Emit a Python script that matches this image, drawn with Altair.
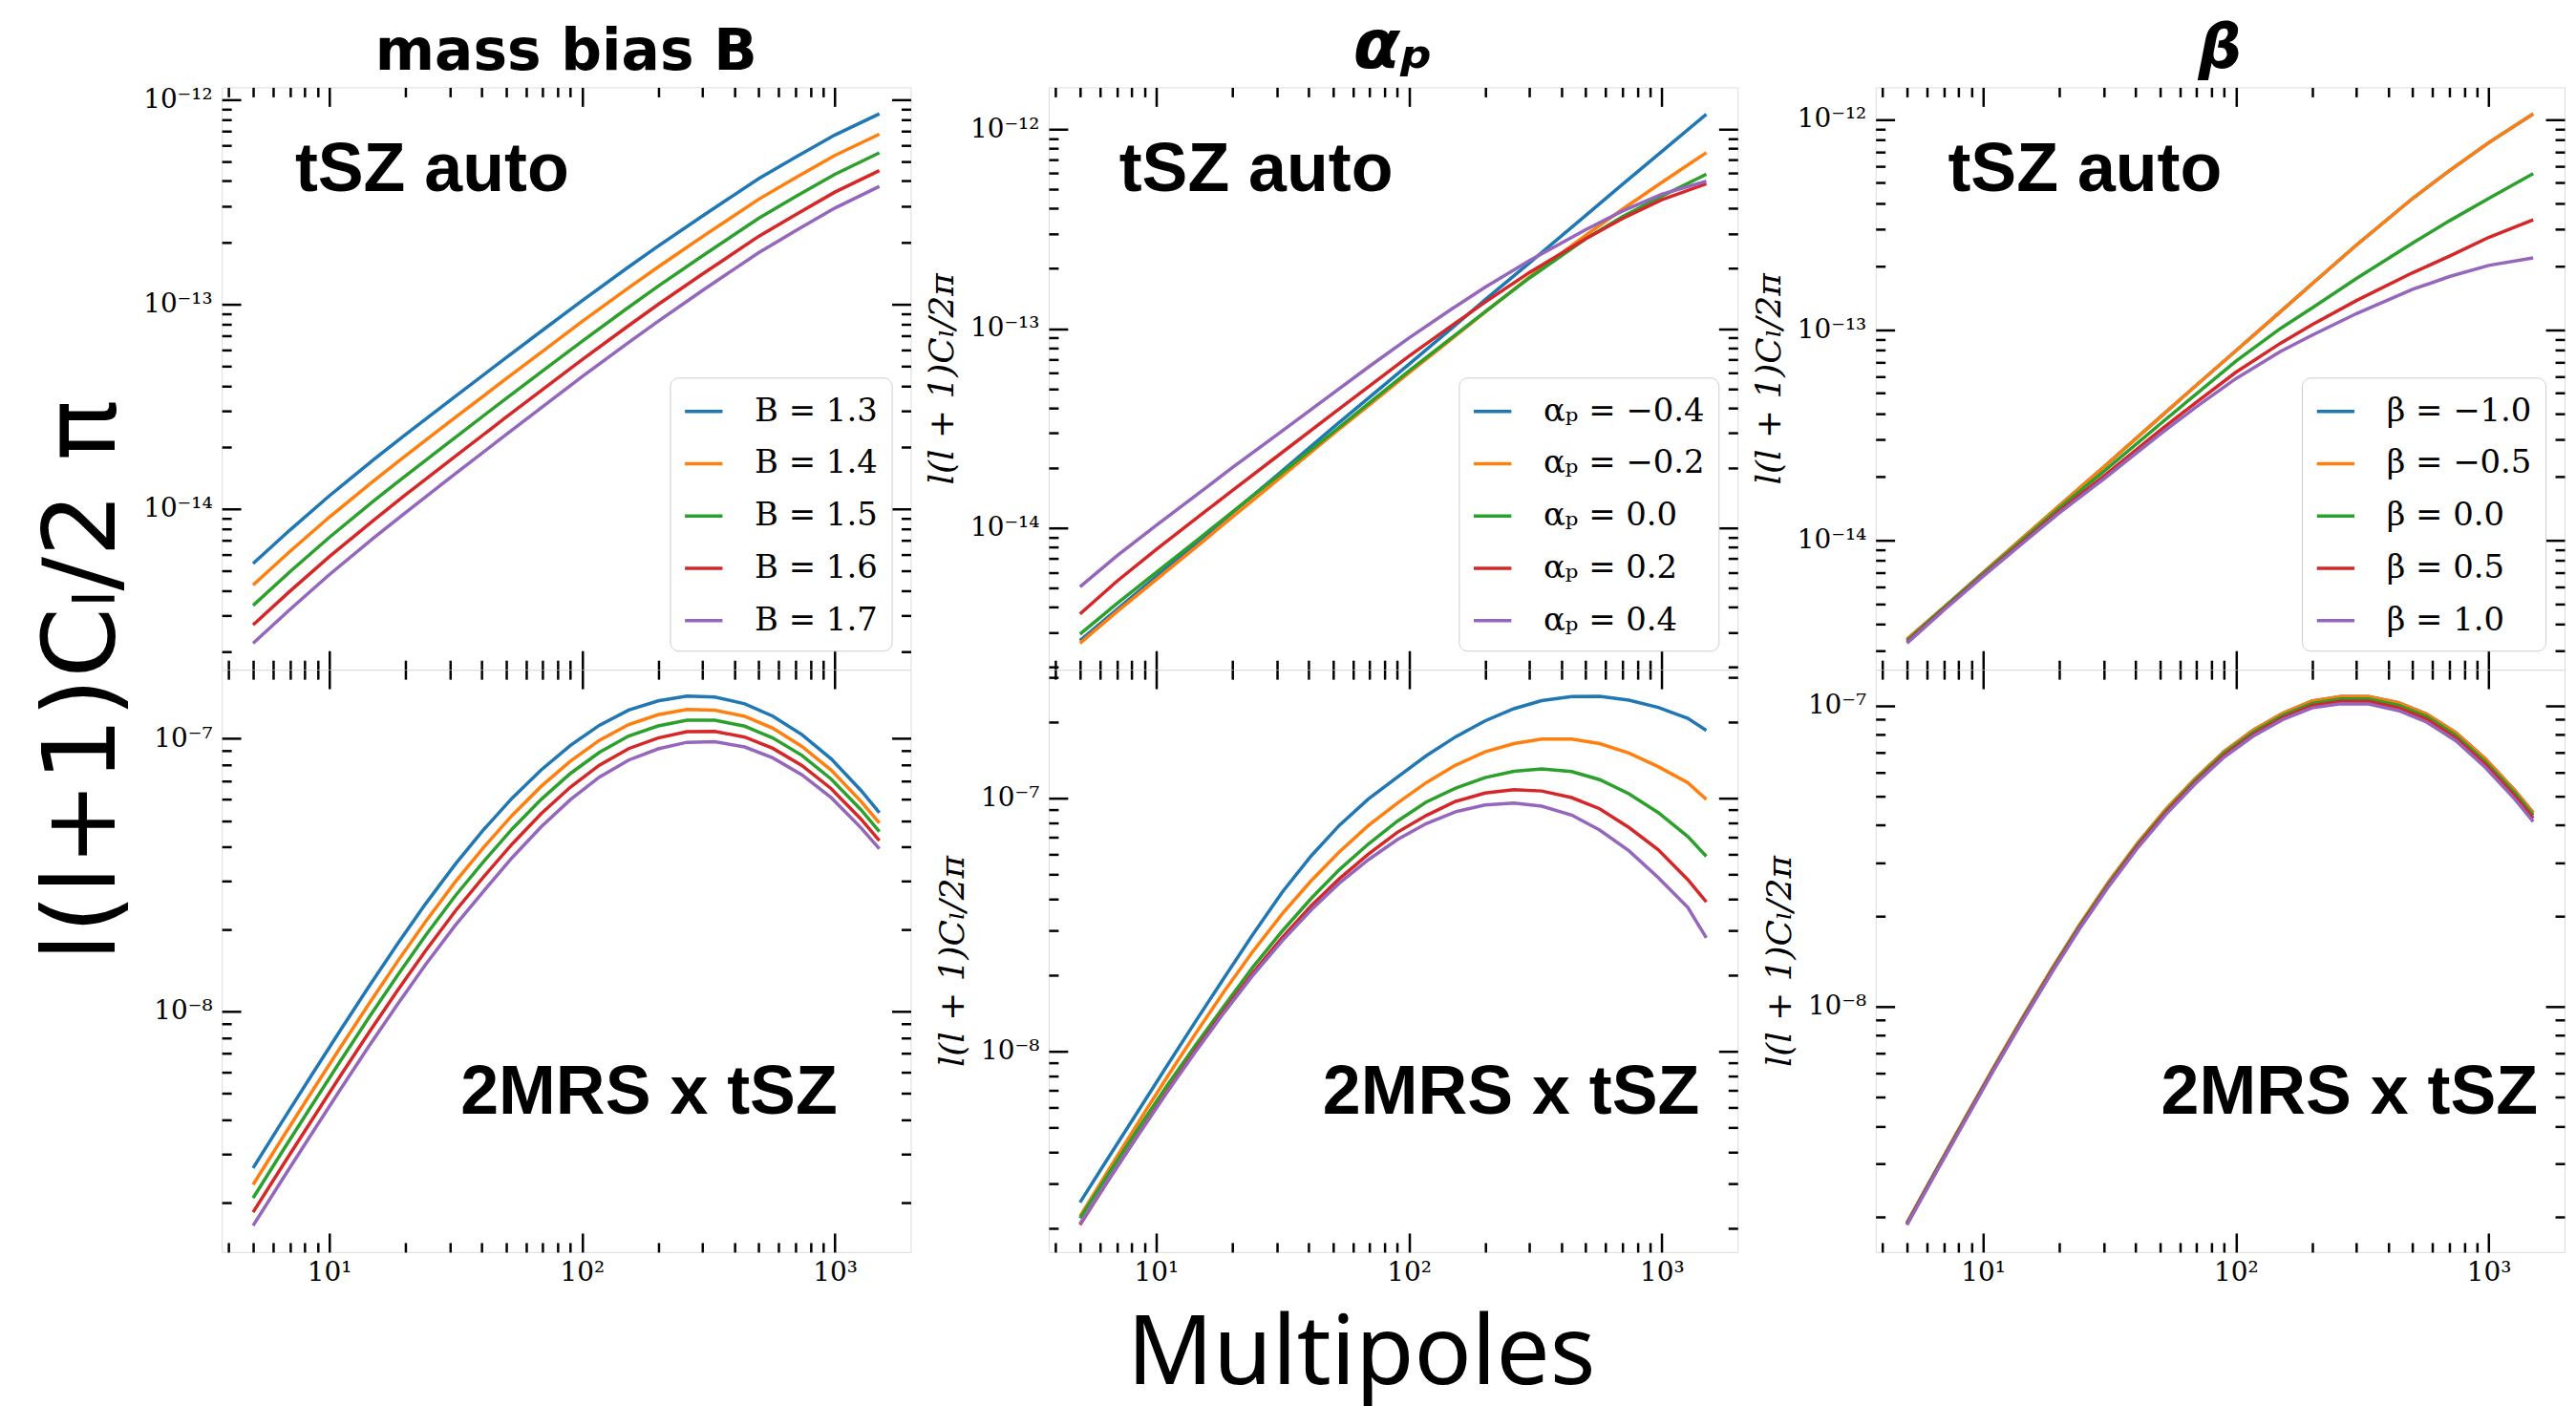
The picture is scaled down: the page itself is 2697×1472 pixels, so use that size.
import math
import altair as alt
import pandas as pd

# ---------------- data ----------------
# multipole grids
ELL_AUTO = [5, 7, 10, 15, 20, 30, 50, 70, 100, 150, 200, 300, 500, 700, 1000, 1500]
ELL_CROSS = [5, 6.5, 8.5, 11, 14.3, 18.6, 24, 31.5, 41, 53, 69, 90, 117, 153, 200,
             260, 335, 440, 568, 741, 968, 1268, 1500]

B_LABELS = ["B = 1.3", "B = 1.4", "B = 1.5", "B = 1.6", "B = 1.7"]
AP_LABELS = ["αₚ = −0.4", "αₚ = −0.2", "αₚ = 0.0", "αₚ = 0.2", "αₚ = 0.4"]
BETA_LABELS = ["β = −1.0", "β = −0.5", "β = 0.0", "β = 0.5", "β = 1.0"]

# all values below: log10 of l(l+1)C_l/2pi
# --- mass bias B, tSZ auto (ELL_AUTO)
B_AUTO_13 = [-14.267, -14.103, -13.937, -13.759, -13.638, -13.471, -13.262, -13.126, -12.983, -12.825, -12.716, -12.568, -12.386, -12.281, -12.173, -12.069]
B_AUTO_14 = [-14.372, -14.208, -14.041, -13.863, -13.742, -13.574, -13.365, -13.229, -13.085, -12.927, -12.818, -12.669, -12.487, -12.382, -12.273, -12.169]
B_AUTO_15 = [-14.472, -14.307, -14.140, -13.961, -13.839, -13.671, -13.461, -13.325, -13.181, -13.022, -12.912, -12.763, -12.580, -12.474, -12.365, -12.260]
B_AUTO_16 = [-14.567, -14.402, -14.234, -14.055, -13.932, -13.764, -13.553, -13.416, -13.271, -13.112, -13.001, -12.852, -12.668, -12.562, -12.452, -12.347]
B_AUTO_17 = [-14.657, -14.491, -14.322, -14.142, -14.019, -13.849, -13.638, -13.500, -13.354, -13.194, -13.083, -12.932, -12.748, -12.641, -12.530, -12.424]

# --- mass bias B, 2MRS x tSZ (ELL_CROSS)
B_CROSS_13 = [-8.574, -8.405, -8.235, -8.073, -7.911, -7.754, -7.607, -7.461, -7.332, -7.218, -7.115, -7.025, -6.952, -6.896, -6.862, -6.845, -6.848, -6.873, -6.918, -6.986, -7.075, -7.190, -7.272]
B_CROSS_14 = [-8.635, -8.467, -8.297, -8.136, -7.975, -7.818, -7.672, -7.526, -7.397, -7.281, -7.175, -7.083, -7.007, -6.949, -6.913, -6.894, -6.896, -6.919, -6.962, -7.029, -7.116, -7.230, -7.310]
B_CROSS_15 = [-8.684, -8.516, -8.347, -8.186, -8.025, -7.869, -7.723, -7.577, -7.449, -7.331, -7.223, -7.128, -7.051, -6.991, -6.954, -6.933, -6.933, -6.955, -6.998, -7.062, -7.149, -7.261, -7.341]
B_CROSS_16 = [-8.736, -8.569, -8.401, -8.240, -8.080, -7.924, -7.779, -7.633, -7.505, -7.386, -7.275, -7.178, -7.098, -7.037, -6.998, -6.975, -6.974, -6.995, -7.036, -7.099, -7.184, -7.295, -7.374]
B_CROSS_17 = [-8.785, -8.618, -8.450, -8.290, -8.130, -7.975, -7.830, -7.685, -7.557, -7.436, -7.323, -7.224, -7.142, -7.079, -7.038, -7.014, -7.012, -7.031, -7.071, -7.133, -7.217, -7.327, -7.404]

# --- alpha_p, tSZ auto (ELL_AUTO)
AP_AUTO_M04 = [-14.565, -14.409, -14.244, -14.058, -13.924, -13.737, -13.498, -13.343, -13.179, -12.991, -12.856, -12.670, -12.433, -12.276, -12.112, -11.925]
AP_AUTO_M02 = [-14.578, -14.420, -14.259, -14.077, -13.946, -13.763, -13.530, -13.381, -13.222, -13.045, -12.918, -12.741, -12.532, -12.401, -12.267, -12.118]
AP_AUTO_P00 = [-14.532, -14.379, -14.224, -14.047, -13.920, -13.744, -13.521, -13.371, -13.213, -13.039, -12.916, -12.746, -12.550, -12.438, -12.336, -12.226]
AP_AUTO_P02 = [-14.431, -14.267, -14.108, -13.935, -13.813, -13.642, -13.427, -13.287, -13.138, -12.979, -12.868, -12.718, -12.550, -12.448, -12.354, -12.274]
AP_AUTO_P04 = [-14.295, -14.140, -13.987, -13.819, -13.698, -13.534, -13.325, -13.188, -13.047, -12.896, -12.793, -12.659, -12.504, -12.410, -12.326, -12.261]

# --- alpha_p, 2MRS x tSZ (ELL_CROSS)
AP_CROSS_M04 = [-8.596, -8.416, -8.234, -8.059, -7.882, -7.708, -7.541, -7.371, -7.228, -7.107, -7.003, -6.916, -6.832, -6.757, -6.694, -6.646, -6.614, -6.598, -6.597, -6.612, -6.641, -6.684, -6.732]
AP_CROSS_M02 = [-8.651, -8.466, -8.280, -8.104, -7.930, -7.762, -7.608, -7.457, -7.326, -7.212, -7.108, -7.019, -6.938, -6.869, -6.816, -6.784, -6.766, -6.766, -6.784, -6.821, -6.875, -6.938, -7.004]
AP_CROSS_P00 = [-8.658, -8.481, -8.304, -8.137, -7.976, -7.819, -7.670, -7.525, -7.396, -7.282, -7.181, -7.090, -7.015, -6.960, -6.918, -6.893, -6.884, -6.894, -6.926, -6.982, -7.056, -7.151, -7.229]
AP_CROSS_P02 = [-8.684, -8.505, -8.327, -8.160, -7.995, -7.837, -7.692, -7.550, -7.425, -7.318, -7.221, -7.134, -7.068, -7.012, -6.979, -6.966, -6.971, -6.997, -7.041, -7.115, -7.203, -7.321, -7.409]
AP_CROSS_P04 = [-8.680, -8.505, -8.330, -8.164, -8.001, -7.845, -7.702, -7.563, -7.441, -7.335, -7.243, -7.163, -7.100, -7.053, -7.026, -7.019, -7.031, -7.066, -7.125, -7.207, -7.313, -7.431, -7.551]

# --- beta, tSZ auto (ELL_AUTO); beta=-1.0 lies under beta=-0.5
BETA_AUTO_M10 = [-14.471, -14.318, -14.154, -13.968, -13.836, -13.652, -13.417, -13.262, -13.100, -12.914, -12.782, -12.597, -12.376, -12.244, -12.111, -11.974]
BETA_AUTO_M05 = [-14.471, -14.318, -14.154, -13.968, -13.836, -13.652, -13.417, -13.262, -13.100, -12.914, -12.782, -12.597, -12.376, -12.244, -12.111, -11.974]
BETA_AUTO_P00 = [-14.477, -14.321, -14.159, -13.977, -13.848, -13.673, -13.449, -13.303, -13.149, -12.994, -12.897, -12.756, -12.588, -12.482, -12.376, -12.258]
BETA_AUTO_P05 = [-14.484, -14.327, -14.166, -13.988, -13.862, -13.696, -13.479, -13.343, -13.202, -13.064, -12.976, -12.861, -12.729, -12.650, -12.561, -12.477]
BETA_AUTO_P10 = [-14.489, -14.332, -14.171, -13.995, -13.871, -13.709, -13.497, -13.365, -13.232, -13.103, -13.026, -12.923, -12.808, -12.747, -12.694, -12.658]

# --- beta, 2MRS x tSZ (ELL_CROSS)
BETA_CROSS_M10 = [-8.720, -8.546, -8.371, -8.204, -8.039, -7.879, -7.731, -7.585, -7.456, -7.344, -7.243, -7.152, -7.082, -7.026, -6.985, -6.970, -6.970, -6.991, -7.028, -7.090, -7.177, -7.282, -7.356]
BETA_CROSS_M05 = [-8.720, -8.546, -8.371, -8.204, -8.039, -7.879, -7.731, -7.585, -7.456, -7.344, -7.243, -7.152, -7.082, -7.026, -6.985, -6.970, -6.970, -6.991, -7.028, -7.090, -7.177, -7.282, -7.356]
BETA_CROSS_P00 = [-8.722, -8.548, -8.374, -8.207, -8.043, -7.883, -7.735, -7.590, -7.461, -7.350, -7.249, -7.158, -7.089, -7.033, -6.993, -6.978, -6.978, -6.999, -7.036, -7.099, -7.186, -7.291, -7.365]
BETA_CROSS_P05 = [-8.724, -8.551, -8.377, -8.210, -8.046, -7.887, -7.740, -7.595, -7.466, -7.355, -7.255, -7.165, -7.096, -7.040, -7.000, -6.986, -6.986, -7.008, -7.045, -7.108, -7.195, -7.301, -7.375]
BETA_CROSS_P10 = [-8.727, -8.554, -8.380, -8.214, -8.050, -7.891, -7.744, -7.600, -7.472, -7.361, -7.261, -7.171, -7.102, -7.047, -7.008, -6.994, -6.995, -7.017, -7.055, -7.117, -7.205, -7.311, -7.386]

# axis ranges (log10)
X_RANGE = (0.575, 3.300)
Y_B_AUTO = (-14.786, -11.940)
Y_B_CROSS = (-8.882, -6.748)
Y_AP_AUTO = (-14.711, -11.790)
Y_AP_CROSS = (-8.792, -6.492)
Y_BETA_AUTO = (-14.615, -11.848)
Y_BETA_CROSS = (-8.817, -6.881)

# ---------------- styling ----------------
COLORS = ["#1f77b4", "#ff7f0e", "#2ca02c", "#d62728", "#9467bd"]
W, H = 724, 612
SERIF = "DejaVu Serif"
SANS = "Liberation Sans"
YLABEL = "l(l + 1)Cₗ/2π"
BIG_YLABEL = "l(l+1)Cₗ/2 π"
SUP = str.maketrans("-0123456789", "⁻⁰¹²³⁴⁵⁶⁷⁸⁹")


def decade_ticks(lo, hi):
    major, minor = [], []
    for d in range(math.floor(lo), math.ceil(hi) + 1):
        for m in range(1, 10):
            v = float(f"{m * 10.0 ** d:.6g}")
            if 10 ** lo <= v <= 10 ** hi:
                (major if m == 1 else minor).append(v)
    return major, minor


def pow_expr(values):
    e = "round(log(datum.value) / LN10)"
    expr = "''"
    for v in values:
        k = round(math.log10(v))
        expr = f"({e} == {k} ? '10{str(k).translate(SUP)}' : {expr})"
    return expr


def panel(ell, labels, series, ydom, legend=False, title=None, title_size=60,
          title_offset=22, ylabel=None, note="", top=True, note_dx=76, xtitle=False):
    rows = [{"ell": l, "cl": 10 ** v, "param": lab}
            for lab, vals in zip(labels, series) for l, v in zip(ell, vals)]
    df = pd.DataFrame(rows)
    xs = alt.Scale(type="log", domain=[10 ** X_RANGE[0], 10 ** X_RANGE[1]], nice=False)
    ys = alt.Scale(type="log", domain=[10 ** ydom[0], 10 ** ydom[1]], nice=False)
    xmaj, xmin = decade_ticks(*X_RANGE)
    ymaj, ymin = decade_ticks(*ydom)

    if top:
        xax = None
    else:
        kw = dict(orient="bottom", values=xmaj, labelExpr=pow_expr(xmaj), ticks=False,
                  tickSize=0, domain=False, grid=False, labelFont=SERIF, labelFontSize=28,
                  labelPadding=8, labelColor="black", labelFlush=False)
        if xtitle:
            kw.update(title="Multipoles", titleFont="Noto Sans", titleFontSize=100,
                      titleFontWeight="normal", titleColor="black", titleX=328, titleY=138,
                      titleBaseline="alphabetic", titleAlign="center")
        else:
            kw["title"] = None
        xax = alt.Axis(**kw)

    ykw = dict(orient="left", values=ymaj, labelExpr=pow_expr(ymaj), ticks=False, tickSize=0,
               domain=False, grid=False, labelFont=SERIF, labelFontSize=28, labelPadding=10,
               labelColor="black", labelFlush=False, labelBaseline="middle")
    if ylabel == "small":
        ykw.update(title=YLABEL, titleFont=SERIF, titleFontSize=36, titleFontStyle="italic",
                   titleFontWeight="normal", titleColor="black", titlePadding=10)
    elif ylabel == "big":
        # the figure-wide label, centred between the two rows
        ykw.update(title=BIG_YLABEL, titleFont="DejaVu Sans", titleFontSize=106,
                   titleFontWeight="normal", titleColor="black", titleAngle=270,
                   titleX=-145, titleY=623, titleAlign="center", titleBaseline="middle")
    else:
        ykw["title"] = None
    yax = alt.Axis(**ykw)

    leg = None
    if legend:
        leg = alt.Legend(title=None, orient="bottom-right", offset=20, labelFont=SERIF,
                         labelFontSize=34, labelColor="black", symbolType="stroke",
                         symbolSize=1560, symbolStrokeWidth=3.5, labelOffset=32, padding=14,
                         rowPadding=16, fillColor="white", strokeColor="#cccccc",
                         cornerRadius=9, labelLimit=600)

    base = alt.Chart(df)
    lines = base.mark_line(strokeWidth=3.5).encode(
        x=alt.X("ell:Q", scale=xs, axis=xax),
        y=alt.Y("cl:Q", scale=ys, axis=yax),
        color=alt.Color("param:N", scale=alt.Scale(domain=labels, range=COLORS), legend=leg),
    )

    def tick_layer(xo, yo, xv, yv, size):
        def ax(o, off, v):
            return alt.Axis(orient=o, offset=off, values=v, tickSize=size, tickWidth=2.5,
                            tickColor="black", labels=False, domain=False, grid=False,
                            title=None)
        return base.mark_point(opacity=0, size=1).encode(
            x=alt.X("ell:Q", scale=xs, axis=ax(xo, -H, xv)),
            y=alt.Y("cl:Q", scale=ys, axis=ax(yo, -W, yv)),
        )

    note_df = pd.DataFrame({"note": [note]})
    if top:
        txt = alt.Chart(note_df).mark_text(font=SANS, fontSize=72, fontWeight="bold",
                                           color="black", align="left",
                                           baseline="alphabetic").encode(
            text="note:N", x=alt.value(note_dx), y=alt.value(109))
    else:
        txt = alt.Chart(note_df).mark_text(font=SANS, fontSize=72, fontWeight="bold",
                                           color="black", align="right",
                                           baseline="alphabetic").encode(
            text="note:N", x=alt.value(W - note_dx), y=alt.value(467))

    ch = alt.layer(
        lines,
        tick_layer("top", "right", xmaj, ymaj, 20),
        tick_layer("top", "right", xmin, ymin, 10),
        tick_layer("bottom", "left", xmaj, ymaj, 20),
        tick_layer("bottom", "left", xmin, ymin, 10),
        txt,
    ).resolve_axis(x="independent", y="independent").properties(width=W, height=H)
    if title:
        text, style = title
        ch = ch.properties(title=alt.TitleParams(
            text=text, font="DejaVu Sans", fontSize=title_size, fontWeight="bold",
            fontStyle=style, color="black", anchor="middle", frame="group",
            baseline="alphabetic", offset=title_offset))
    return ch


tl = panel(ELL_AUTO, B_LABELS, [B_AUTO_13, B_AUTO_14, B_AUTO_15, B_AUTO_16, B_AUTO_17],
           Y_B_AUTO, legend=True, title=("mass bias B", "normal"), title_offset=-43,
           ylabel="big", note="tSZ auto", top=True, note_dx=77)
bl = panel(ELL_CROSS, B_LABELS, [B_CROSS_13, B_CROSS_14, B_CROSS_15, B_CROSS_16, B_CROSS_17],
           Y_B_CROSS, note="2MRS x tSZ", top=False, note_dx=77)
tm = panel(ELL_AUTO, AP_LABELS, [AP_AUTO_M04, AP_AUTO_M02, AP_AUTO_P00, AP_AUTO_P02, AP_AUTO_P04],
           Y_AP_AUTO, legend=True, title=("αₚ", "italic"), title_size=72, title_offset=-53,
           ylabel="small", note="tSZ auto", top=True, note_dx=74)
bm = panel(ELL_CROSS, AP_LABELS, [AP_CROSS_M04, AP_CROSS_M02, AP_CROSS_P00, AP_CROSS_P02, AP_CROSS_P04],
           Y_AP_CROSS, ylabel="small", note="2MRS x tSZ", top=False, note_dx=40, xtitle=True)
tr = panel(ELL_AUTO, BETA_LABELS, [BETA_AUTO_M10, BETA_AUTO_M05, BETA_AUTO_P00, BETA_AUTO_P05, BETA_AUTO_P10],
           Y_BETA_AUTO, legend=True, title=("β", "italic"), title_size=64, title_offset=-45,
           ylabel="small", note="tSZ auto", top=True, note_dx=76)
br = panel(ELL_CROSS, BETA_LABELS, [BETA_CROSS_M10, BETA_CROSS_M05, BETA_CROSS_P00, BETA_CROSS_P05, BETA_CROSS_P10],
           Y_BETA_CROSS, ylabel="small", note="2MRS x tSZ", top=False, note_dx=28)

chart = alt.concat(
    tl, tm, tr, bl, bm, br, columns=3, spacing={"row": 0, "column": 145}, bounds="flush"
).resolve_scale(
    x="independent", y="independent", color="independent"
).resolve_legend(color="independent").properties(
    padding={"left": 26, "top": 2, "right": 2, "bottom": 2},
).configure_view(stroke="black", strokeWidth=3).configure(background="white")

chart.save("out.html", embed_options={"renderer": "svg", "actions": False})
